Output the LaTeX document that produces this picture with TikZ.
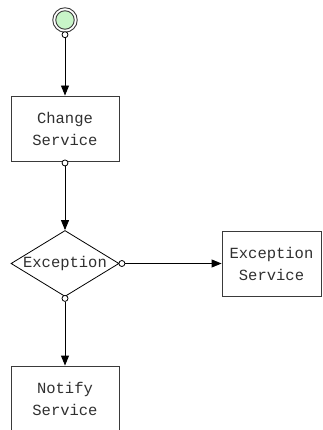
\documentclass[tikz,border=0pt]{standalone}
\usepackage{fontspec}
\setmonofont{Liberation Mono}
\usetikzlibrary{arrows.meta,shapes.geometric}
\definecolor{startgreen}{HTML}{C8F5C8}
\definecolor{edgegray}{HTML}{3A3A3A}
\definecolor{textgray}{HTML}{303030}
\tikzset{
  svcbox/.style={draw=edgegray, line width=0.9pt, fill=white, minimum width=108pt,
    minimum height=65pt, inner sep=0pt, align=center, font=\ttfamily\fontsize{15.5}{22}\selectfont,
    text=textgray},
  choice/.style={draw=black, line width=0.8pt, fill=white, shape=diamond, aspect=1.64,
    minimum width=108pt, minimum height=66pt, inner sep=0pt,
    font=\ttfamily\fontsize{15.5}{22}\selectfont, text=textgray},
  flow/.style={draw=black, line width=0.9pt, -{Triangle[length=10pt,width=8pt]}},
  port/.style={circle, draw=black, line width=0.8pt, fill=white, minimum size=6pt, inner sep=0pt},
}
\begin{document}
\begin{tikzpicture}[x=1pt,y=-1pt]
  \useasboundingbox (0,0) rectangle (323,430);
  % initial state
  \node[circle, draw=edgegray, line width=0.9pt, fill=white, minimum size=24.5pt, inner sep=0pt] (start) at (65,20) {};
  \node[circle, draw=edgegray, line width=0.9pt, fill=startgreen, minimum size=18.5pt, inner sep=0pt] at (start) {};
  % services and decision
  \node[svcbox] (change) at (65,128.5) {Change\\Service};
  \node[choice] (exc) at (65,263.5) {Exception};
  \node[svcbox, minimum width=99pt] (excsvc) at (271.5,263.5) {Exception\\Service};
  \node[svcbox] (notify) at (65,398.5) {Notify\\Service};
  % ports on the outgoing side
  \node[port] (p0) at ([yshift=-2pt]start.south) {};
  \node[port] (p1) at ([yshift=-1.5pt]change.south) {};
  \node[port] (p2) at ([xshift=2.5pt]exc.east) {};
  \node[port] (p3) at ([yshift=-1.5pt]exc.south) {};
  % flows
  \draw[flow] (p0) -- (change.north);
  \draw[flow] (p1) -- (exc.north);
  \draw[flow] (p2) -- (excsvc.west);
  \draw[flow] (p3) -- (notify.north);
\end{tikzpicture}
\end{document}
